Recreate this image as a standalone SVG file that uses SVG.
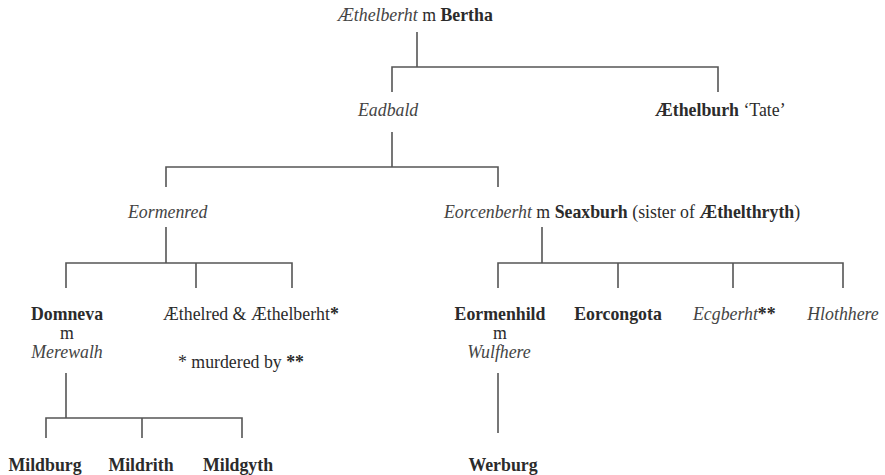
<svg xmlns="http://www.w3.org/2000/svg" width="885" height="475" viewBox="0 0 885 475">
  <style>
    text { font-family: 'Liberation Serif', 'Times New Roman', Times, serif; font-size: 17.8px; fill: #2b2b2b; }
    .i { font-style: italic; fill: #444; }
    .b { font-weight: bold; }
    .c { text-anchor: middle; }
    #connectors path { fill: none; stroke: #555; stroke-width: 1.6; }
  </style>
  <rect width="885" height="475" fill="#fff"/>

  <!-- family-tree connectors: parent drop, sibling bar, child drops -->
  <g id="connectors">
    <path d="M417 32V67M392 92V67H718V92"/>
    <path d="M392 132V167M166 187V167H498V187"/>
    <path d="M166 227V263M66 288V263H292V288M196 263V288"/>
    <path d="M542 227V263M498 288V263H843V288M618 263V288M733 263V288"/>
    <path d="M66 373V418M46 438V418H242V438M142 418V438"/>
    <path d="M498 373V433"/>
  </g>

  <g id="aethelberht"><text x="338" y="21"><tspan class="i">Æthelberht</tspan> m <tspan class="b">Bertha</tspan></text></g>
  <g id="eadbald"><text x="358" y="116" class="i">Eadbald</text></g>
  <g id="aethelburh"><text x="655" y="116"><tspan class="b">Æthelburh</tspan> ‘Tate’</text></g>
  <g id="eormenred"><text x="128" y="218" class="i">Eormenred</text></g>
  <g id="eorcenberht"><text x="444" y="218"><tspan class="i">Eorcenberht</tspan> m <tspan class="b">Seaxburh</tspan> (sister of <tspan class="b">Æthelthryth</tspan>)</text></g>
  <g id="domneva">
    <text x="67" y="320" class="b c">Domneva</text>
    <text x="67" y="339" class="c">m</text>
    <text x="67" y="358" class="i c">Merewalh</text>
  </g>
  <g id="aethelred"><text x="163" y="320">Æthelred &amp; Æthelberht<tspan class="b">*</tspan></text></g>
  <g id="note"><text x="178" y="368">* murdered by <tspan class="b">**</tspan></text></g>
  <g id="eormenhild">
    <text x="500" y="320" class="b c">Eormenhild</text>
    <text x="500" y="339" class="c">m</text>
    <text x="499" y="358" class="i c">Wulfhere</text>
  </g>
  <g id="eorcongota"><text x="618" y="320" class="b c">Eorcongota</text></g>
  <g id="ecgberht"><text x="693" y="320"><tspan class="i">Ecgberht</tspan><tspan class="b">**</tspan></text></g>
  <g id="hlothhere"><text x="843" y="320" class="i c">Hlothhere</text></g>
  <g id="mildburg"><text x="45" y="471" class="b c">Mildburg</text></g>
  <g id="mildrith"><text x="141" y="471" class="b c">Mildrith</text></g>
  <g id="mildgyth"><text x="238" y="471" class="b c">Mildgyth</text></g>
  <g id="werburg"><text x="503" y="471" class="b c">Werburg</text></g>
</svg>
